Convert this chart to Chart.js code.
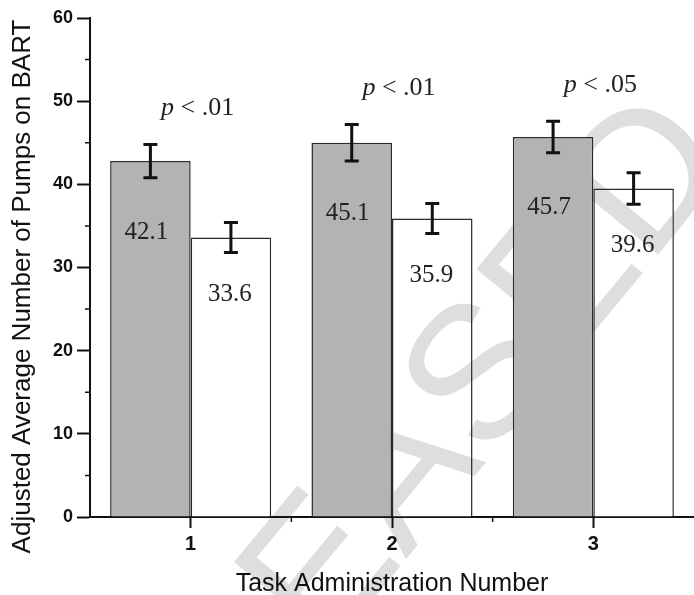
<!DOCTYPE html>
<html>
<head>
<meta charset="utf-8">
<script src="https://cdn.jsdelivr.net/npm/chart.js@4"></script>
<style>
  html, body { margin: 0; padding: 0; background: #fff; }
  #wrap { width: 694px; height: 595px; }
</style>
</head>
<body>
<div id="wrap"><canvas id="chart1"></canvas></div>
<script>
// task administration number
var tasks = ['1', '2', '3'];

// bar heights as drawn
var grayValues = [42.8, 45.0, 45.7];
var whiteValues = [33.6, 35.9, 39.5];

// error bar half ranges
var grayErr = [2.0, 2.2, 1.9];
var whiteErr = [1.8, 1.8, 1.9];

// printed numbers inside bars
var grayLabels = ['42.1', '45.1', '45.7'];
var whiteLabels = ['33.6', '35.9', '39.6'];

// significance per task
var pLabels = ['.01', '.01', '.05'];

var yTicks = [0, 10, 20, 30, 40, 50, 60];

var INK = '#111';
var GRAY = '#b3b3b3';

// draws error bars, value labels, p values, minor ticks, y title, watermark
var extras = {
  id: 'extras',
  afterDatasetsDraw: function (chart) {
    var ctx = chart.ctx;
    var y = chart.scales.y;
    var x = chart.scales.x;
    var area = chart.chartArea;

    // watermark
    ctx.save();
    ctx.globalCompositeOperation = 'darken';
    ctx.translate(372, 518);
    ctx.rotate(-0.88);
    ctx.font = '190px "Liberation Sans"';
    ctx.fillStyle = '#dedede';
    ctx.textAlign = 'center';
    ctx.textBaseline = 'middle';
    ctx.fillText('RELEASED', 0, 0);
    ctx.restore();

    // error bars
    var errs = [grayErr, whiteErr];
    var vals = [grayValues, whiteValues];
    ctx.save();
    ctx.strokeStyle = INK;
    ctx.lineWidth = 3;
    [0, 1].forEach(function (di) {
      chart.getDatasetMeta(di).data.forEach(function (bar, i) {
        var top = y.getPixelForValue(vals[di][i] + errs[di][i]);
        var bot = y.getPixelForValue(vals[di][i] - errs[di][i]);
        ctx.beginPath();
        ctx.moveTo(bar.x, top); ctx.lineTo(bar.x, bot);
        ctx.moveTo(bar.x - 7, top); ctx.lineTo(bar.x + 7, top);
        ctx.moveTo(bar.x - 7, bot); ctx.lineTo(bar.x + 7, bot);
        ctx.stroke();
      });
    });
    ctx.restore();

    // minor ticks
    ctx.save();
    ctx.strokeStyle = INK;
    ctx.lineWidth = 1.5;
    ctx.beginPath();
    for (var v = 5; v < 60; v += 10) {
      var py = y.getPixelForValue(v);
      ctx.moveTo(area.left - 5, py); ctx.lineTo(area.left, py);
    }
    for (var k = 0; k < tasks.length - 1; k++) {
      var px = (x.getPixelForTick(k) + x.getPixelForTick(k + 1)) / 2;
      ctx.moveTo(px, area.bottom); ctx.lineTo(px, area.bottom + 5);
    }
    ctx.stroke();
    ctx.restore();
  },
  afterDraw: function (chart) {
    var ctx = chart.ctx;
    var y = chart.scales.y;
    var area = chart.chartArea;
    var grayBars = chart.getDatasetMeta(0).data;
    var whiteBars = chart.getDatasetMeta(1).data;

    ctx.save();
    ctx.fillStyle = '#222';
    ctx.textAlign = 'center';
    ctx.textBaseline = 'middle';
    ctx.font = '25px "Liberation Serif"';
    grayBars.forEach(function (bar, i) {
      ctx.fillText(grayLabels[i], bar.x - 4, bar.y + 71);
    });
    whiteBars.forEach(function (bar, i) {
      ctx.fillText(whiteLabels[i], bar.x - 1, bar.y + 57);
    });

    // p values above each pair
    tasks.forEach(function (t, i) {
      var top = Math.min(
        y.getPixelForValue(grayValues[i] + grayErr[i]),
        y.getPixelForValue(whiteValues[i] + whiteErr[i]));
      var cy = top - 36;
      var italic = 'italic 26px "Liberation Serif"';
      var plain = '26px "Liberation Serif"';
      var rest = ' < ' + pLabels[i];
      ctx.font = italic;
      var wp = ctx.measureText('p').width;
      ctx.font = plain;
      var wr = ctx.measureText(rest).width;
      var cx = (grayBars[i].x + whiteBars[i].x) / 2 + 7;
      var left = cx - (wp + wr) / 2;
      ctx.textAlign = 'left';
      ctx.font = italic;
      ctx.fillText('p', left, cy);
      ctx.font = plain;
      ctx.fillText(rest, left + wp, cy);
    });

    // y axis title
    ctx.translate(23, (area.top + area.bottom) / 2 + 19);
    ctx.rotate(-Math.PI / 2);
    ctx.textAlign = 'center';
    ctx.fillStyle = INK;
    ctx.font = '26px "Liberation Sans"';
    ctx.fillText('Adjusted Average Number of Pumps on BART', 0, 0);
    ctx.restore();
  }
};

new Chart(document.getElementById('chart1'), {
  type: 'bar',
  data: {
    labels: tasks,
    datasets: [
      {
        data: grayValues,
        backgroundColor: GRAY,
        borderColor: '#2a2a2a',
        borderWidth: 1.5,
        categoryPercentage: 0.8,
        barPercentage: 1.0
      },
      {
        data: whiteValues,
        backgroundColor: '#ffffff',
        borderColor: '#2a2a2a',
        borderWidth: 1.5,
        categoryPercentage: 0.8,
        barPercentage: 1.0
      }
    ]
  },
  options: {
    responsive: true,
    maintainAspectRatio: false,
    animation: false,
    layout: { padding: { top: 18, right: 0, left: 0, bottom: 0 } },
    plugins: {
      legend: { display: false },
      tooltip: { enabled: false }
    },
    scales: {
      x: {
        grid: { drawOnChartArea: false, offset: false, tickLength: 11, tickWidth: 2, color: INK },
        border: { display: true, width: 2, color: INK },
        ticks: { color: INK, padding: 4, font: { family: 'Liberation Sans', size: 20, weight: 'bold' } },
        title: {
          display: true,
          text: 'Task Administration Number',
          color: INK,
          padding: 0,
          font: { family: 'Liberation Sans', size: 25, lineHeight: 0.9 }
        },
        afterFit: function (scale) { scale.height = 78; }
      },
      y: {
        min: 0,
        max: 60,
        afterBuildTicks: function (scale) {
          scale.ticks = yTicks.map(function (v) { return { value: v }; });
        },
        grid: { drawOnChartArea: false, tickLength: 13, tickWidth: 2, color: INK },
        border: { display: true, width: 2, color: INK },
        ticks: { color: INK, padding: 4, font: { family: 'Liberation Sans', size: 18, weight: 'bold' } },
        afterFit: function (scale) { scale.width = 90; }
      }
    }
  },
  plugins: [extras]
});
</script>
</body>
</html>
